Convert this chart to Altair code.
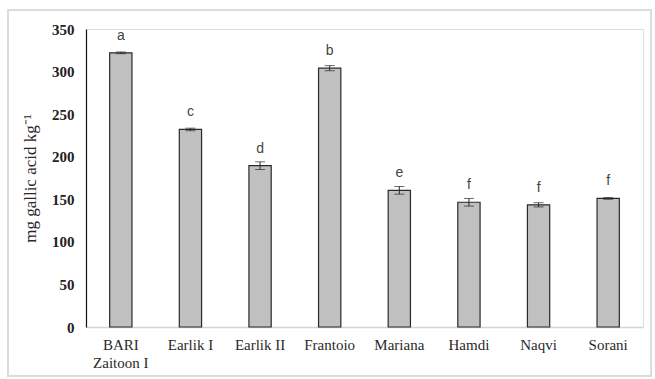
import altair as alt
import pandas as pd

# Total phenolic content per olive cultivar
cultivars = ["BARI\nZaitoon I", "Earlik I", "Earlik II", "Frantoio",
             "Mariana", "Hamdi", "Naqvi", "Sorani"]
means = [322, 232, 189.5, 304, 160.5, 146.5, 143.5, 151]
errors = [1, 1.5, 4.5, 3, 4.5, 4.5, 2.5, 1]
groups = ["a", "c", "d", "b", "e", "f", "f", "f"]

df = pd.DataFrame({
    "cultivar": cultivars,
    "mean": means,
    "err": errors,
    "group": groups,
})
df["lo"] = df["mean"] - df["err"]
df["hi"] = df["mean"] + df["err"]

W, H = 557, 298
serif = "Liberation Serif"

x = alt.X(
    "cultivar:N",
    sort=cultivars,
    scale=alt.Scale(paddingInner=0.68, paddingOuter=0.34),
    axis=alt.Axis(
        title=None,
        labelAngle=0,
        labelFont=serif,
        labelFontSize=15,
        labelColor="#2a2a2a",
        labelPadding=10,
        labelLineHeight=18,
        labelExpr="split(datum.value, '\\n')",
        ticks=False,
        domainColor="#d4d4d4",
        domainWidth=1.5,
    ),
)
y_scale = alt.Scale(domain=[0, 350], nice=False)

bars = alt.Chart(df).mark_bar(
    color="#c0c0c0", stroke="#2a2a2a", strokeWidth=1.2
).encode(
    x=x,
    y=alt.Y(
        "mean:Q",
        scale=y_scale,
        axis=alt.Axis(
            title="mg gallic acid kg⁻¹",
            titleFont=serif,
            titleFontSize=17,
            titleFontWeight="normal",
            titleColor="#2a2a2a",
            titlePadding=12,
            values=list(range(0, 351, 50)),
            labelFont=serif,
            labelFontSize=15,
            labelFontWeight="bold",
            labelColor="#222222",
            labelPadding=12,
            ticks=False,
            grid=False,
            domainColor="#111111",
            domainWidth=1.2,
        ),
    ),
)

whisker = alt.Chart(df).mark_rule(color="#2a2a2a", strokeWidth=1).encode(
    x=alt.X("cultivar:N", sort=cultivars),
    y=alt.Y("lo:Q", scale=y_scale),
    y2="hi:Q",
)
cap_lo = alt.Chart(df).mark_tick(
    color="#2a2a2a", orient="horizontal", size=10, thickness=1
).encode(x=alt.X("cultivar:N", sort=cultivars), y=alt.Y("lo:Q", scale=y_scale))
cap_hi = alt.Chart(df).mark_tick(
    color="#2a2a2a", orient="horizontal", size=10, thickness=1
).encode(x=alt.X("cultivar:N", sort=cultivars), y=alt.Y("hi:Q", scale=y_scale))

letters = alt.Chart(df).mark_text(
    font="Liberation Sans", fontSize=14, color="#444444",
    baseline="middle", dy=-17,
).encode(
    x=alt.X("cultivar:N", sort=cultivars),
    y=alt.Y("mean:Q", scale=y_scale),
    text="group:N",
)

# light outer frame around the whole figure
frame = alt.Chart(df).mark_rect(
    fill=None, stroke="#dcdcdc", strokeWidth=1.5, clip=False
).encode(
    x=alt.value(-78), x2=alt.value(W + 8),
    y=alt.value(-19), y2=alt.value(H + 49),
)

chart = alt.layer(frame, bars, whisker, cap_lo, cap_hi, letters).properties(
    width=W,
    height=H,
    padding={"left": 86, "top": 29, "right": 12, "bottom": 52},
    autosize=alt.AutoSizeParams(type="none"),
).configure_view(
    stroke="#111111", strokeWidth=1.2
).configure(background="white")

chart.save("out.html", embed_options={"renderer": "svg", "actions": False})
